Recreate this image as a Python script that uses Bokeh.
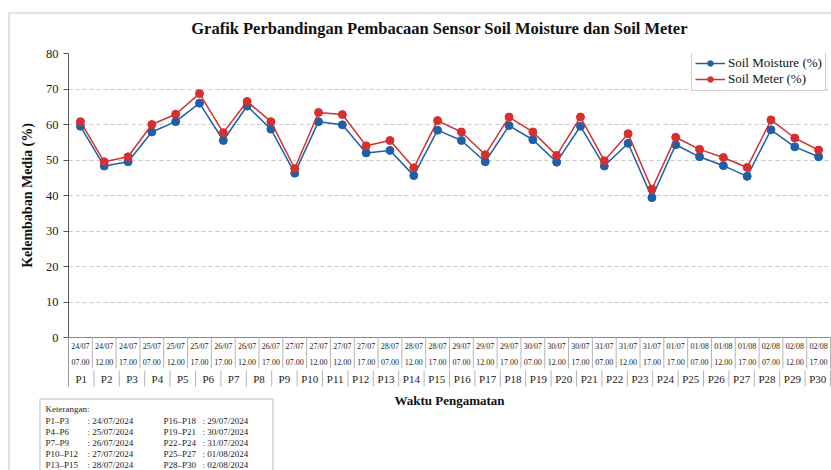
from bokeh.plotting import figure
from bokeh.models import ColumnDataSource, Legend, LegendItem, FixedTicker, Range1d
from bokeh.core.properties import value
from bokeh.embed import file_html
from bokeh.resources import INLINE

# ---------------- data ----------------
title_text = "Grafik Perbandingan Pembacaan Sensor Soil Moisture dan Soil Meter"
y_label = "Kelembaban Media (%)"
x_label = "Waktu Pengamatan"
series_names = ["Soil Moisture (%)", "Soil Meter (%)"]

soil_moisture = [59.5, 48.3, 49.5, 57.9, 60.8, 66.0, 55.5, 65.2, 58.7, 46.3,
                 60.8, 59.9, 52.0, 52.7, 45.6, 58.4, 55.5, 49.5, 59.7, 55.7,
                 49.4, 59.5, 48.3, 54.7, 39.4, 54.3, 50.9, 48.4, 45.4, 58.5,
                 53.7, 50.9]
soil_meter = [60.8, 49.5, 50.9, 60.0, 62.9, 68.7, 57.7, 66.5, 60.8, 47.6,
              63.4, 62.8, 54.0, 55.5, 47.8, 61.1, 57.9, 51.5, 62.1, 57.9,
              51.3, 62.1, 49.8, 57.4, 41.8, 56.4, 53.0, 50.7, 47.9, 61.3,
              56.2, 52.8]
dates = ["24/07", "24/07", "24/07", "25/07", "25/07", "25/07", "26/07", "26/07",
         "26/07", "27/07", "27/07", "27/07", "27/07", "28/07", "28/07", "28/07",
         "29/07", "29/07", "29/07", "30/07", "30/07", "30/07", "31/07", "31/07",
         "31/07", "01/07", "01/08", "01/08", "01/08", "02/08", "02/08", "02/08"]
times = ["07.00", "12.00", "17.00", "07.00", "12.00", "17.00", "17.00", "12.00",
         "17.00", "07.00", "12.00", "12.00", "17.00", "07.00", "12.00", "17.00",
         "07.00", "12.00", "17.00", "07.00", "12.00", "17.00", "07.00", "12.00",
         "17.00", "17.00", "07.00", "12.00", "17.00", "07.00", "12.00", "17.00"]
p_labels = ["P1", "P2", "P3", "P4", "P5", "P6", "P7", "P8", "P9", "P10",
            "P11", "P12", "P13", "P14", "P15", "P16", "P17", "P18", "P19", "P20",
            "P21", "P22", "P23", "P24", "P25", "P26", "P27", "P28", "P29", "P30"]
y_ticks = [0, 10, 20, 30, 40, 50, 60, 70, 80]

ket_title = "Keterangan:"
ket_ranges_1 = ["P1\u2013P3", "P4\u2013P6", "P7\u2013P9", "P10\u2013P12", "P13\u2013P15"]
ket_dates_1 = [": 24/07/2024", ": 25/07/2024", ": 26/07/2024", ": 27/07/2024", ": 28/07/2024"]
ket_ranges_2 = ["P16\u2013P18", "P19\u2013P21", "P22\u2013P24", "P25\u2013P27", "P28\u2013P30"]
ket_dates_2 = [": 29/07/2024", ": 30/07/2024", ": 31/07/2024", ": 01/08/2024", ": 02/08/2024"]

# ---------------- styling / layout ----------------
BLUE = "#1f5fa6"
RED = "#d62f2f"
SERIF = value("Liberation Serif")
W, H = 831, 470
N = len(soil_moisture)
NP = len(p_labels)

# canvas-pixel -> data helpers (frame: x 68..830, y=0 at 337, y=80 at 53)
FR_L, FR_W = 68.0, 762.0
Y0_PX, PX_PER_Y = 337.0, 284.0 / 80.0


def dx(px):
    return 0.5 + (px - FR_L) / (FR_W / N)


def dy(py):
    return (Y0_PX - py) / PX_PER_Y


p = figure(width=W, height=H, x_range=Range1d(0.5, N + 0.5), y_range=Range1d(0, 80),
           output_backend="svg", toolbar_location=None,
           min_border_left=68, min_border_right=1, min_border_top=53, min_border_bottom=133)
p.outline_line_color = None
p.background_fill_color = "white"
p.border_fill_color = "white"

p.xaxis.visible = False
p.xgrid.visible = False
p.ygrid.ticker = FixedTicker(ticks=y_ticks[1:])
p.ygrid.grid_line_color = "#c8c8c8"
p.ygrid.grid_line_dash = "4 3"
p.ygrid.grid_line_width = 1

ax = p.yaxis[0]
ax.ticker = FixedTicker(ticks=y_ticks)
ax.axis_line_color = "#555555"
ax.major_tick_line_color = "#555555"
ax.major_tick_in = 0
ax.major_tick_out = 5
ax.minor_tick_line_color = None
ax.major_label_text_font = "Liberation Serif"
ax.major_label_text_font_size = "12.5px"
ax.major_label_text_color = "#222222"
ax.major_label_standoff = 5
ax.axis_label = y_label
ax.axis_label_text_font = "Liberation Serif"
ax.axis_label_text_font_style = "bold"
ax.axis_label_text_font_size = "14px"
ax.axis_label_text_color = "#111111"
ax.axis_label_standoff = 8

# ---------------- series ----------------
xs = list(range(1, N + 1))
src = ColumnDataSource(dict(x=xs, sm=soil_moisture, meter=soil_meter))
r1 = p.line("x", "sm", source=src, line_color=BLUE, line_width=1.5)
r2 = p.scatter("x", "sm", source=src, size=8, fill_color=BLUE, line_color=BLUE)
r3 = p.line("x", "meter", source=src, line_color=RED, line_width=1.5)
r4 = p.scatter("x", "meter", source=src, size=8, fill_color=RED, line_color=RED)

legend = Legend(items=[LegendItem(label=series_names[0], renderers=[r1, r2]),
                       LegendItem(label=series_names[1], renderers=[r3, r4])],
                location=(623, 246))
legend.label_text_font = "Liberation Serif"
legend.label_text_font_size = "13px"
legend.label_text_color = "#111111"
legend.glyph_width = 30
legend.glyph_height = 14
legend.label_height = 14
legend.label_standoff = 3
legend.spacing = 0
legend.padding = 3
legend.margin = 0
legend.border_line_color = "#999999"
legend.border_line_width = 1
legend.background_fill_color = "white"
legend.background_fill_alpha = 1.0
p.add_layout(legend)

# ---------------- outer border ----------------
p.segment(x0=[dx(8.5), dx(8.5)], y0=[dy(12.5), dy(12.5)],
          x1=[dx(8.5), dx(840)], y1=[dy(480), dy(12.5)],
          line_color="#c4c4c4", line_width=1, level="overlay")

# ---------------- title / x label ----------------
p.text(x=[dx(439)], y=[dy(27.5)], text=[title_text], text_align="center",
       text_baseline="middle", text_font=SERIF, text_font_style="bold",
       text_font_size="16.5px", text_color="#111111", level="overlay")
p.text(x=[dx(449)], y=[dy(400)], text=[x_label], text_align="center",
       text_baseline="middle", text_font=SERIF, text_font_style="bold",
       text_font_size="13px", text_color="#111111", level="overlay")

# ---------------- data table below the axis ----------------
p.segment(x0=[0.5], y0=[0], x1=[N + 0.5], y1=[0], line_color="#888888",
          line_width=1, level="overlay")
sep_x = [k + 0.5 for k in range(N + 1)]
p.segment(x0=sep_x, y0=[0] * len(sep_x), x1=sep_x, y1=[dy(368)] * len(sep_x),
          line_color="#b4b4b4", line_width=1, level="overlay")
pw = N / NP
psep_x = [0.5 + k * pw for k in range(NP + 1)]
p.segment(x0=psep_x, y0=[dy(370)] * len(psep_x), x1=psep_x, y1=[dy(386)] * len(psep_x),
          line_color="#b4b4b4", line_width=1, level="overlay")
p.segment(x0=[0.5], y0=[0], x1=[0.5], y1=[dy(386)], line_color="#999999",
          line_width=1, level="overlay")

tsrc = ColumnDataSource(dict(x=xs, d=dates, t=times,
                             yd=[dy(346)] * N, yt=[dy(361.5)] * N))
p.text(x="x", y="yd", text="d", source=tsrc, text_align="center", text_baseline="middle",
       text_font=SERIF, text_font_size="8px", text_color="#222222", level="overlay")
p.text(x="x", y="yt", text="t", source=tsrc, text_align="center", text_baseline="middle",
       text_font=SERIF, text_font_size="8px", text_color="#222222", level="overlay")
psrc = ColumnDataSource(dict(x=[0.5 + (k + 0.5) * pw for k in range(NP)], t=p_labels,
                             y=[dy(378.5)] * NP))
p.text(x="x", y="y", text="t", source=psrc, text_align="center", text_baseline="middle",
       text_font=SERIF, text_font_size="11px", text_color="#222222", level="overlay")

# ---------------- Keterangan box ----------------
p.quad(left=[dx(39.5)], right=[dx(272.5)], top=[dy(398.5)], bottom=[dy(490)],
       fill_color=None, line_color="#bdbdbd", line_width=1, level="overlay")
row_y = [dy(420 + 11.0 * i) for i in range(len(ket_ranges_1))]
ksrc = ColumnDataSource(dict(
    x=[dx(45)] + [dx(45)] * 5 + [dx(87)] * 5 + [dx(163)] * 5 + [dx(202)] * 5,
    y=[dy(408.5)] + row_y * 4,
    t=[ket_title] + ket_ranges_1 + ket_dates_1 + ket_ranges_2 + ket_dates_2))
p.text(x="x", y="y", text="t", source=ksrc, text_align="left", text_baseline="middle",
       text_font=SERIF, text_font_size="9px", text_color="#222222", level="overlay")

open("out.html", "w").write(file_html(p, INLINE))
